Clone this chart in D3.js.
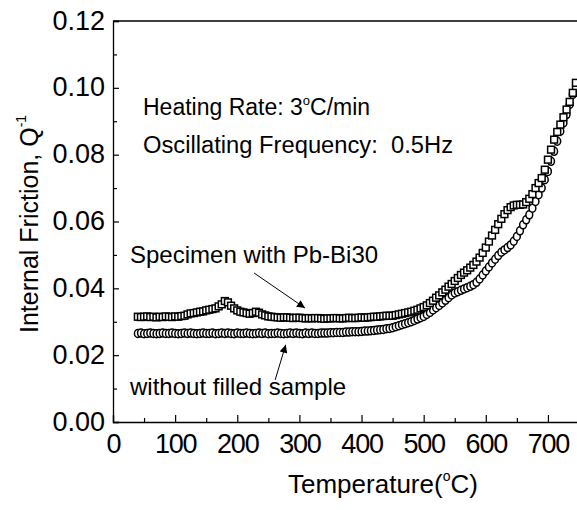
<!DOCTYPE html>
<html>
<head>
<meta charset="utf-8">
<script src="https://cdn.jsdelivr.net/npm/d3@7/dist/d3.min.js"></script>
<style>
  body { margin: 0; background: #fff; }
  text { font-family: "Liberation Sans", Arial, sans-serif; fill: #000; }
</style>
</head>
<body>
<div id="chart"></div>
<script>
// temperature (°C) of the readings, shared by both series
const temps = [
  40, 45, 50, 55, 60, 65, 70, 75, 80, 85,
  90, 95, 100, 105, 110, 115, 120, 125, 130, 135,
  140, 145, 150, 155, 160, 165, 170, 175, 180, 185,
  190, 195, 200, 205, 210, 215, 220, 225, 230, 235,
  240, 245, 250, 255, 260, 265, 270, 275, 280, 285,
  290, 295, 300, 305, 310, 315, 320, 325, 330, 335,
  340, 345, 350, 355, 360, 365, 370, 375, 380, 385,
  390, 395, 400, 405, 410, 415, 420, 425, 430, 435,
  440, 445, 450, 455, 460, 465, 470, 475, 480, 485,
  490, 495, 500, 505, 510, 515, 520, 525, 530, 535,
  540, 545, 550, 555, 560, 565, 570, 575, 580, 585,
  590, 595, 600, 605, 610, 615, 620, 625, 630, 635,
  640, 645, 650, 655, 660, 665, 670, 675, 680, 685,
  690, 695, 700, 705, 710, 715, 720, 725, 730, 735,
  740, 745];

// Specimen with Pb-Bi30 (squares)
const pbBi30 = [
  .0315, .0314, .0315, .0316, .0314, .0315, .0313, .0315, .0314, .0316,
  .0315, .0314, .0316, .0315, .0317, .0318, .0322, .0325, .0326, .0328,
  .0330, .0331, .0334, .0336, .0338, .0340, .0346, .0352, .0362, .0358,
  .0348, .0340, .0334, .0330, .0328, .0326, .0324, .0326, .0330, .0327,
  .0322, .0319, .0316, .0315, .0314, .0313, .0312, .0313, .0313, .0312,
  .0311, .0312, .0312, .0311, .0310, .0311, .0310, .0311, .0311, .0310,
  .0309, .0310, .0310, .0311, .0311, .0310, .0310, .0311, .0312, .0311,
  .0311, .0312, .0313, .0312, .0313, .0314, .0315, .0315, .0316, .0317,
  .0318, .0318, .0318, .0320, .0322, .0324, .0326, .0328, .0330, .0333,
  .0336, .0340, .0344, .0349, .0356, .0363, .0372, .0379, .0388, .0396,
  .0405, .0413, .0422, .0431, .0440, .0447, .0454, .0462, .0470, .0480,
  .0492, .0506, .0522, .0540, .0558, .0575, .0592, .0608, .0622, .0634,
  .0643, .0648, .0650, .0650, .0651, .0658, .0668, .0682, .0700, .0715,
  .0730, .0755, .0785, .0815, .0845, .0868, .0890, .0912, .0935, .0958,
  .0985, .1015];

// without filled sample (circles)
const unfilled = [
  .0265, .0266, .0264, .0265, .0266, .0265, .0264, .0265, .0266, .0265,
  .0265, .0266, .0265, .0264, .0265, .0266, .0265, .0266, .0265, .0264,
  .0265, .0266, .0265, .0265, .0266, .0264, .0265, .0266, .0265, .0266,
  .0265, .0264, .0266, .0265, .0265, .0266, .0265, .0264, .0265, .0266,
  .0265, .0266, .0264, .0265, .0265, .0266, .0265, .0264, .0265, .0266,
  .0265, .0266, .0265, .0264, .0266, .0265, .0266, .0265, .0265, .0266,
  .0266, .0266, .0267, .0267, .0268, .0268, .0268, .0269, .0269, .0270,
  .0270, .0270, .0271, .0272, .0272, .0273, .0274, .0275, .0276, .0277,
  .0279, .0280, .0282, .0285, .0288, .0291, .0294, .0297, .0300, .0304,
  .0308, .0312, .0316, .0322, .0328, .0335, .0342, .0349, .0356, .0364,
  .0372, .0380, .0386, .0390, .0394, .0398, .0402, .0406, .0411, .0418,
  .0428, .0440, .0452, .0464, .0476, .0487, .0498, .0508, .0515, .0522,
  .0530, .0541, .0555, .0572, .0590, .0605, .0620, .0640, .0660, .0680,
  .0700, .0725, .0750, .0780, .0810, .0840, .0870, .0895, .0920, .0950,
  .0980, .1000];

const xTicks = [0, 100, 200, 300, 400, 500, 600, 700];
const yTicks = [0.00, 0.02, 0.04, 0.06, 0.08, 0.10, 0.12];

const width = 577, height = 510;
const margin = { left: 113, top: 21 };
const plotW = 466, plotH = 401;

const svg = d3.select("#chart").append("svg")
  .attr("width", width)
  .attr("height", height);

const x = d3.scaleLinear().domain([0, 750]).range([margin.left, margin.left + plotW]);
const y = d3.scaleLinear().domain([0, 0.12]).range([margin.top + plotH, margin.top]);

const ink = "#000";

// frame: top line
svg.append("line")
  .attr("x1", x(0)).attr("x2", x(750))
  .attr("y1", y(0.12)).attr("y2", y(0.12))
  .attr("stroke", ink).attr("stroke-width", 1.3);

// x axis, ticks inward
const xAxis = svg.append("g").attr("transform", `translate(0,${y(0)})`)
  .call(d3.axisBottom(x).tickValues(xTicks).tickSize(-7).tickFormat(d3.format("d")));
svg.append("g").attr("transform", `translate(0,${y(0)})`)
  .call(d3.axisBottom(x).tickValues(d3.range(50, 750, 100)).tickSize(-4).tickFormat(""))
  .select(".domain").remove();
xAxis.selectAll("text")
  .attr("y", 31).attr("dy", 0)
  .attr("font-size", 27).attr("letter-spacing", -1.2);

// y axis, ticks inward
const yAxis = svg.append("g").attr("transform", `translate(${x(0)},0)`)
  .call(d3.axisLeft(y).tickValues(yTicks).tickSize(-6).tickFormat(d3.format(".2f")));
svg.append("g").attr("transform", `translate(${x(0)},0)`)
  .call(d3.axisLeft(y).tickValues(d3.range(0.01, 0.12, 0.02)).tickSize(-4).tickFormat(""))
  .select(".domain").remove();
yAxis.selectAll("text")
  .attr("x", -8).attr("dy", 8)
  .attr("font-size", 27);

svg.selectAll(".domain").attr("stroke", ink).attr("stroke-width", 1.3);
svg.selectAll(".tick line").attr("stroke", ink).attr("stroke-width", 1.2);
svg.selectAll(".tick text").attr("font-family", "Liberation Sans, Arial, sans-serif").attr("fill", ink);

// series
const pts1 = temps.map((t, i) => ({ t, v: pbBi30[i] }));
const pts2 = temps.map((t, i) => ({ t, v: unfilled[i] }));

svg.append("g").selectAll("ellipse").data(pts2).enter().append("ellipse")
  .attr("cx", d => x(d.t)).attr("cy", d => y(d.v))
  .attr("rx", 3.4).attr("ry", 4)
  .attr("fill", "#fff").attr("stroke", ink).attr("stroke-width", 1.5);

svg.append("g").selectAll("rect").data(pts1).enter().append("rect")
  .attr("x", d => x(d.t) - 3.4).attr("y", d => y(d.v) - 3.4)
  .attr("width", 6.8).attr("height", 6.8)
  .attr("fill", "#fff").attr("stroke", ink).attr("stroke-width", 1.5);

// annotations
function label(txt, px, py, size, len) {
  const t = svg.append("text").attr("x", px).attr("y", py).attr("font-size", size);
  if (len) t.attr("textLength", len).attr("lengthAdjust", "spacingAndGlyphs");
  return t.text(txt);
}

const heat = svg.append("text").attr("x", 143).attr("y", 115).attr("font-size", 23);
heat.append("tspan").text("Heating Rate: 3");
heat.append("tspan").attr("font-size", 13).attr("dy", -10).text("o");
heat.append("tspan").attr("dy", 10).text("C/min");

label("Oscillating Frequency:\u00A0\u00A00.5Hz", 143, 153, 23, 310);
label("Specimen with Pb-Bi30", 130, 263, 24);
label("without filled sample", 130, 395, 24);

// arrows
svg.append("defs").append("marker")
  .attr("id", "head").attr("viewBox", "0 0 10 10")
  .attr("refX", 10).attr("refY", 5)
  .attr("markerWidth", 10).attr("markerHeight", 8)
  .attr("markerUnits", "userSpaceOnUse")
  .attr("orient", "auto")
  .append("path").attr("d", "M0,0 L10,5 L0,10 z").attr("fill", ink);

const arrows = [
  { t0: 227, v0: 0.0446, t1: 309, v1: 0.0341 },
  { t0: 261, v0: 0.0126, t1: 278, v1: 0.0231 }
];
svg.selectAll(".arrow").data(arrows).enter().append("line")
  .attr("class", "arrow")
  .attr("x1", d => x(d.t0)).attr("y1", d => y(d.v0))
  .attr("x2", d => x(d.t1)).attr("y2", d => y(d.v1))
  .attr("stroke", ink).attr("stroke-width", 1)
  .attr("marker-end", "url(#head)");

// axis titles
const xt = svg.append("text").attr("x", 288).attr("y", 493).attr("font-size", 26);
xt.append("tspan").text("Temperature(");
xt.append("tspan").attr("font-size", 14).attr("dy", -12).text("o");
xt.append("tspan").attr("dy", 12).text("C)");

const yt = svg.append("text")
  .attr("transform", "translate(38,333) rotate(-90)")
  .attr("font-size", 25);
yt.append("tspan").text("Internal Friction, Q");
yt.append("tspan").attr("font-size", 14).attr("dy", -12).text("-1");
</script>
</body>
</html>
